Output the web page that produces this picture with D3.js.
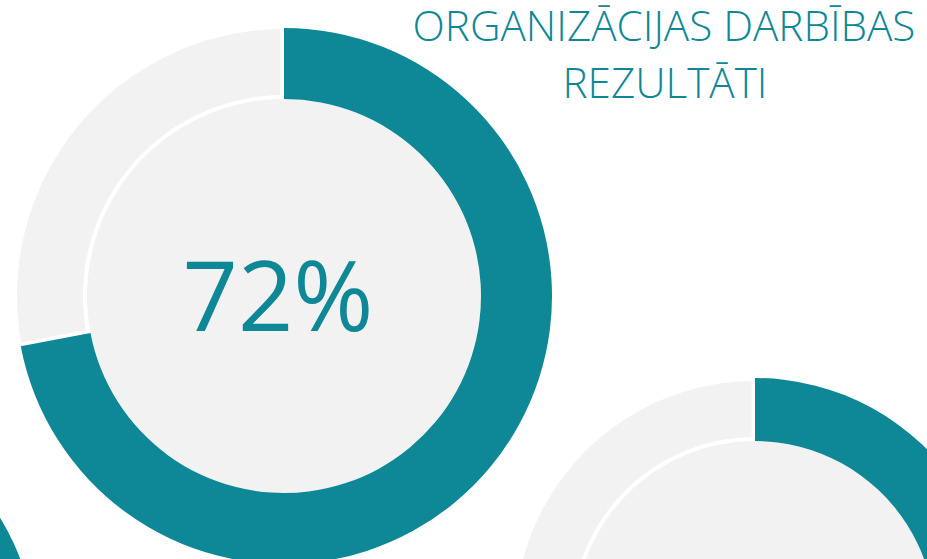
<!DOCTYPE html>
<html>
<head>
<meta charset="utf-8">
<script src="https://cdn.jsdelivr.net/npm/d3@7"></script>
<style>
  body { margin: 0; background: #fff; overflow: hidden; }
  svg { display: block; }
</style>
</head>
<body>
<div id="chart"></div>
<script>
// Data
var titleLines = ['ORGANIZĀCIJAS DARBĪBAS', 'REZULTĀTI']
var shares = [72, 64, 58]
var labels = shares.map(d => d + '%')

var teal = '#0e8797'
var gray = '#f2f2f2'
var width = 927
var height = 559

var svg = d3.select('#chart')
  .append('svg')
  .attr('width', width)
  .attr('height', height)

// donut layout: the first one is full size, the others sit partly off the page
var donuts = [
  { cx: 284, cy: 296, inner: 197, grayIn: 201, grayOut: 267, tealOut: 268, gap: 3.5 },
  { cx: 755, cy: 621, inner: 180, grayIn: 184, grayOut: 240, tealOut: 243, gap: 3.5 },
  { cx: -207, cy: 645, inner: 180, grayIn: 184, grayOut: 240, tealOut: 243, gap: 3.5 }
]

var pie = d3.pie().sort(null).value(d => d)

donuts.forEach(function(g, i) {
  var layer = svg.append('g').attr('transform', `translate(${g.cx}, ${g.cy})`)
  var slices = pie([shares[i], 100 - shares[i]])

  layer.append('circle').attr('r', g.inner).attr('fill', gray)

  var tealArc = d3.arc().innerRadius(g.inner).outerRadius(g.tealOut)
  var grayArc = d3.arc().innerRadius(g.grayIn).outerRadius(g.grayOut).padRadius(100)

  layer.append('path')
    .attr('d', tealArc(slices[0]))
    .attr('fill', teal)

  // the gap sits only on the grey side
  layer.append('path')
    .attr('d', grayArc(Object.assign({}, slices[1], { padAngle: (2 * g.gap) / 100 })))
    .attr('fill', gray)

  // only the label that falls inside the page is drawn
  if (g.cy + 35 > height) return

  var label = layer.append('text')
    .text(labels[i])
    .attr('x', -6)
    .attr('y', 35)
    .attr('text-anchor', 'middle')
    .attr('fill', teal)
    .attr('font-family', '"Open Sans", sans-serif')
    .attr('font-size', 106)
  var w = label.node().getComputedTextLength()
  label.attr('font-size', 106 * (191 * g.inner / 197) / w)
})

// title
var title = svg.append('g')
  .attr('fill', teal)
  .attr('font-family', '"Open Sans", sans-serif')
  .attr('font-weight', 300)
  .attr('text-anchor', 'middle')

var line1 = title.append('text').text(titleLines[0]).attr('x', 664).attr('y', 41).attr('font-size', 38)
var k = 503 / line1.node().getComputedTextLength()
line1.attr('font-size', 38 * k)
title.append('text').text(titleLines[1]).attr('x', 665).attr('y', 98).attr('font-size', 38 * k)
</script>
</body>
</html>
